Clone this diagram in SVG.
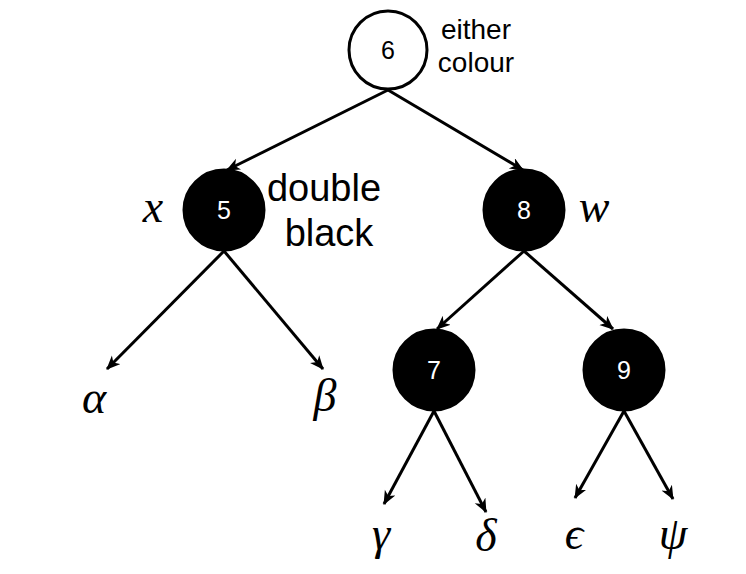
<svg xmlns="http://www.w3.org/2000/svg" width="746" height="574" viewBox="0 0 746 574">
<defs>
<marker id="arr" markerUnits="userSpaceOnUse" markerWidth="16" markerHeight="14" refX="13" refY="6" orient="auto">
<path d="M0,0 L14,6 L0,12 L4,6 Z" fill="#000"/>
</marker>
<style>
.e{stroke:#000;stroke-width:3;fill:none;marker-end:url(#arr)}
.n{stroke:#000;stroke-width:3}
.num{font-family:"Liberation Sans",Arial,sans-serif;text-anchor:middle}
.lbl{font-family:"Liberation Sans",Arial,sans-serif;text-anchor:middle}
.m{font-family:"Liberation Serif","DejaVu Serif",serif;font-style:italic;font-size:46px;text-anchor:middle}
</style>
</defs>
<g id="connectors">
<line class="e" x1="388" y1="90" x2="227" y2="170"/>
<line class="e" x1="388" y1="90" x2="523" y2="170"/>
<line class="e" x1="224" y1="251" x2="107" y2="369"/>
<line class="e" x1="224" y1="251" x2="323" y2="369"/>
<line class="e" x1="524" y1="251" x2="437" y2="329"/>
<line class="e" x1="524" y1="251" x2="613" y2="329"/>
<line class="e" x1="434" y1="411" x2="384" y2="504"/>
<line class="e" x1="434" y1="411" x2="486" y2="512"/>
<line class="e" x1="624" y1="411" x2="575" y2="498"/>
<line class="e" x1="624" y1="411" x2="673" y2="499"/>
</g>
<g id="n6">
<circle class="n" cx="388" cy="50" r="39" fill="#fff"/>
<text class="num" x="388" y="59" font-size="25" fill="#000">6</text>
</g>
<g id="n5">
<circle class="n" cx="224" cy="210" r="40" fill="#000"/>
<text class="num" x="224" y="219" font-size="25" fill="#fff">5</text>
</g>
<g id="n8">
<circle class="n" cx="524" cy="210" r="40" fill="#000"/>
<text class="num" x="524" y="219" font-size="25" fill="#fff">8</text>
</g>
<g id="n7">
<circle class="n" cx="434" cy="370" r="40" fill="#000"/>
<text class="num" x="434" y="379" font-size="25" fill="#fff">7</text>
</g>
<g id="n9">
<circle class="n" cx="624" cy="370" r="40" fill="#000"/>
<text class="num" x="624" y="379" font-size="25" fill="#fff">9</text>
</g>
<g id="labels">
<text class="lbl" x="476" y="39" font-size="28">either</text>
<text class="lbl" x="476" y="72" font-size="28">colour</text>
<text class="lbl" x="324" y="201" font-size="38">double</text>
<text class="lbl" x="329" y="246" font-size="38">black</text>
<text class="m" x="153" y="222">x</text>
<text class="m" x="594" y="222">w</text>
<text class="m" x="94" y="413">α</text>
<text class="m" x="325" y="411">β</text>
<text class="m" x="381" y="549">γ</text>
<text class="m" x="486" y="551">δ</text>
<text class="m" x="574" y="549">ϵ</text>
<text class="m" x="673" y="549">ψ</text>
</g>
</svg>
